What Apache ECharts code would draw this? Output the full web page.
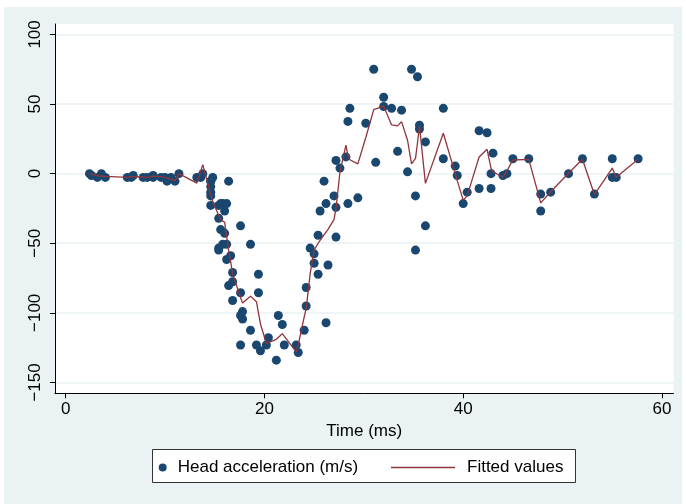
<!DOCTYPE html>
<html>
<head>
<meta charset="utf-8">
<script src="https://cdn.jsdelivr.net/npm/echarts@6/dist/echarts.min.js"></script>
<style>
  html, body { margin: 0; padding: 0; background: #fff; }
  #main { width: 686px; height: 504px; }
</style>
</head>
<body>
<div id="main"></div>
<script>
// motorcycle crash data: time (ms) and head acceleration
const times = [2.4, 2.6, 3.2, 3.6, 4.0, 6.2, 6.6, 6.8, 7.8, 8.2, 8.8, 8.8, 9.6, 10.0, 10.2, 10.6, 11.0, 11.4, 13.2, 13.6,
  13.8, 14.6, 14.6, 14.6, 14.6, 14.6, 14.6, 14.8, 15.4, 15.4, 15.4, 15.4, 15.6, 15.6, 15.8, 15.8, 16.0, 16.0, 16.2, 16.2,
  16.2, 16.4, 16.4, 16.6, 16.8, 16.8, 16.8, 17.6, 17.6, 17.6, 17.6, 17.8, 17.8, 18.6, 18.6, 19.2, 19.4, 19.4, 19.6, 20.2,
  20.4, 21.2, 21.4, 21.8, 22.0, 23.2, 23.4, 24.0, 24.2, 24.2, 24.6, 25.0, 25.0, 25.4, 25.4, 25.6, 26.0, 26.2, 26.2, 26.4,
  27.0, 27.2, 27.2, 27.2, 27.6, 28.2, 28.4, 28.4, 28.6, 29.4, 30.2, 31.0, 31.2, 32.0, 32.0, 32.8, 33.4, 33.8, 34.4, 34.8,
  35.2, 35.2, 35.4, 35.6, 35.6, 36.2, 36.2, 38.0, 38.0, 39.2, 39.4, 40.0, 40.4, 41.6, 41.6, 42.4, 42.8, 42.8, 43.0, 44.0,
  44.4, 45.0, 46.6, 47.8, 47.8, 48.8, 50.6, 52.0, 53.2, 55.0, 55.0, 55.4, 57.6]
const accel = [0.0, -1.3, -2.7, 0.0, -2.7, -2.7, -2.7, -1.3, -2.7, -2.7, -1.3, -2.7, -2.7, -2.7, -5.4, -2.7, -5.4, 0.0, -2.7, -2.7,
  0.0, -13.3, -5.4, -5.4, -9.3, -16.0, -22.8, -2.7, -22.8, -32.1, -53.5, -54.9, -40.2, -21.5, -21.5, -50.8, -42.9, -26.8, -21.5, -50.8,
  -61.7, -5.4, -80.4, -59.0, -71.0, -91.1, -77.7, -37.5, -85.6, -123.1, -101.9, -99.1, -104.4, -112.5, -50.8, -123.1, -85.6, -72.3, -127.2, -123.1,
  -117.9, -134.0, -101.9, -108.4, -123.1, -123.1, -128.5, -112.5, -95.1, -81.8, -53.5, -64.4, -57.6, -72.3, -44.3, -26.8, -5.4, -107.1, -21.5, -65.6,
  -16.0, -45.6, -24.2, 9.5, 4.0, 12.0, -21.5, 37.5, 46.9, -17.4, 36.2, 75.0, 8.1, 54.9, 48.2, 46.9, 16.0, 45.6, 1.3, 75.0,
  -16.0, -54.9, 69.6, 34.8, 32.1, -37.5, 22.8, 46.9, 10.7, 5.4, -1.3, -21.5, -13.3, 30.8, -10.7, 29.4, 0.0, -10.7, 14.7, -1.3,
  0.0, 10.7, 10.7, -26.8, -14.7, -13.3, 0.0, 10.7, -14.7, -2.7, 10.7, -2.7, 10.7]

// fitted values (one per distinct time)
const fitTime = [2.4, 2.6, 3.2, 3.6, 4.0, 6.2, 6.6, 6.8, 7.8, 8.2, 8.8, 9.6, 10.0, 10.2, 10.6, 11.0, 11.4, 13.2, 13.6, 13.8,
  14.6, 14.8, 15.4, 15.6, 15.8, 16.0, 16.2, 16.4, 16.6, 16.8, 17.6, 17.8, 18.6, 19.2, 19.4, 19.6, 20.2, 20.4, 21.2, 21.4,
  21.8, 22.0, 23.2, 23.4, 24.0, 24.2, 24.6, 25.0, 25.4, 25.6, 26.0, 26.2, 26.4, 27.0, 27.2, 27.6, 28.2, 28.4, 28.6, 29.4,
  30.2, 31.0, 31.2, 32.0, 32.8, 33.4, 33.8, 34.4, 34.8, 35.2, 35.4, 35.6, 36.2, 38.0, 39.2, 39.4, 40.0, 40.4, 41.6, 42.4,
  42.8, 43.0, 44.0, 44.4, 45.0, 46.6, 47.8, 48.8, 50.6, 52.0, 53.2, 55.0, 55.4, 57.6]
const fitValue = [0, -1, -1.5, -1.7, -2, -2.7, -2.2, -1.8, -2.4, -2.7, -1.8, -2.2, -2.7, -3.2, -4, -5, 0, -6.8, 2, 6.5,
  -15, -20, -30, -33, -34, -35, -45, -55, -63, -72, -89, -93, -88, -92, -100, -108, -122, -121, -119, -118,
  -115, -114, -128, -123, -103, -97, -72, -55, -50, -48, -44, -42, -40, -33, -25, 1, 20.5, 13, 10, 7,
  26, 46, 47, 48.5, 35, 34.3, 37.4, 24, 7, 11, 22, 34.3, -7, 29, 0, -5, -19, -16, 12, 17.5,
  4, 1.4, -2.6, 2, 9.8, 10.3, -21, -13, 0.3, 10.3, -15, 4, -2.6, 10.3]

const xTicks = [0, 20, 40, 60]
const yTicks = [-150, -100, -50, 0, 50, 100]

const font = '"Liberation Sans", Arial, sans-serif'
const navy = '#1a476f'
const maroon = '#90353b'
const bg = '#eaf2f3'

const chart = echarts.init(document.getElementById('main'), null, { renderer: 'canvas' })

const option = {
  backgroundColor: '#fff',
  animation: false,
  graphic: [
    { type: 'rect', z: -10, shape: { x: 4, y: 7, width: 678, height: 497 }, style: { fill: bg } },
    { type: 'rect', z: -1, shape: { x: 152.5, y: 449.5, width: 423, height: 33 },
      style: { fill: '#fff', stroke: '#333', lineWidth: 1 } }
  ],
  grid: {
    left: 55, right: 12.5, top: 24, bottom: 110.7,
    show: true, backgroundColor: '#fff', borderWidth: 0
  },
  legend: [
    {
      left: 158.7, top: 459, itemWidth: 20, itemHeight: 8, padding: 0,
      data: [{ name: 'Head acceleration (m/s)', icon: 'circle' }],
      itemStyle: { opacity: 1 },
      textStyle: { fontFamily: font, fontSize: 17, color: '#000' }
    },
    {
      left: 391, top: 459, itemWidth: 64, itemHeight: 1.4, padding: 0,
      data: [{ name: 'Fitted values', icon: 'rect' }],
      textStyle: { fontFamily: font, fontSize: 17, color: '#000', padding: [0, 0, 0, 7] }
    }
  ],
  xAxis: {
    type: 'value', min: -1.07, max: 61.16,
    name: 'Time (ms)', nameLocation: 'middle', nameGap: 27,
    nameTextStyle: { fontFamily: font, fontSize: 17, color: '#000' },
    axisLine: { onZero: false, lineStyle: { color: '#000', width: 1 } },
    axisTick: { customValues: xTicks, length: 5, lineStyle: { color: '#000' } },
    axisLabel: { customValues: xTicks, margin: 8, fontFamily: font, fontSize: 17, color: '#000' },
    splitLine: { show: false }
  },
  yAxis: {
    type: 'value', min: -157.8, max: 107.5,
    axisLine: { show: true, onZero: false, lineStyle: { color: '#000', width: 1 } },
    axisTick: { show: true, customValues: yTicks, length: 5, lineStyle: { color: '#000' } },
    axisLabel: {
      customValues: yTicks, rotate: 90, margin: 11, fontFamily: font, fontSize: 17, color: '#000',
      formatter: v => String(v).replace('-', '\u2212')
    },
    splitLine: { show: true, lineStyle: { color: bg, width: 1.5 } }
  },
  series: [
    {
      name: 'Head acceleration (m/s)',
      type: 'scatter',
      data: times.map((t, i) => [t, accel[i]]),
      symbol: 'circle',
      symbolSize: 9,
      itemStyle: { color: navy, opacity: 1 },
      z: 2
    },
    {
      name: 'Fitted values',
      type: 'line',
      data: fitTime.map((t, i) => [t, fitValue[i]]),
      symbol: 'none',
      lineStyle: { color: maroon, width: 1.3 },
      itemStyle: { color: maroon },
      z: 3
    }
  ]
}

chart.setOption(option)
</script>
</body>
</html>
